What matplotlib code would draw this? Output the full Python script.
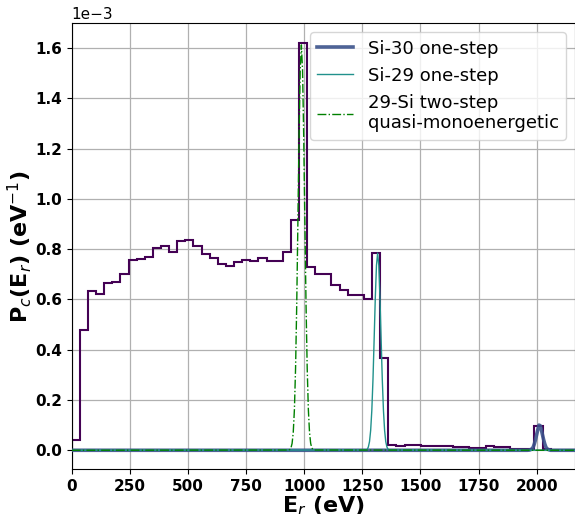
import numpy as np
import matplotlib
matplotlib.use("Agg")
import matplotlib.pyplot as plt

# ---------------- data (values in units of 1e-3 eV^-1) ----------------
E_max = 2165.0
n_bins = 62
hist_values = [
    0.040, 0.477, 0.633, 0.620, 0.665, 0.668, 0.701, 0.758, 0.762, 0.768,
    0.804, 0.812, 0.787, 0.834, 0.836, 0.813, 0.781, 0.764, 0.740, 0.731,
    0.747, 0.756, 0.752, 0.764, 0.751, 0.752, 0.789, 0.914, 1.619, 0.729,
    0.700, 0.700, 0.658, 0.638, 0.619, 0.619, 0.601, 0.784, 0.366, 0.021,
    0.015, 0.019, 0.021, 0.015, 0.016, 0.015, 0.015, 0.012, 0.012, 0.011,
    0.011, 0.016, 0.013, 0.012, 0.007, 0.007, 0.004, 0.098, 0.004, 0.000,
    0.000, 0.000,
]

# Si-30 one-step curve
si30_E = [0, 1960, 1970, 1975, 1980, 1985, 1990, 1995, 2000, 2005, 2010,
          2015, 2020, 2025, 2030, 2035, 2040, 2045, 2050, 2060, 2165]
si30_P = [0, 0.000, 0.001, 0.003, 0.006, 0.012, 0.025, 0.042, 0.062, 0.082, 0.100,
          0.098, 0.083, 0.062, 0.042, 0.025, 0.012, 0.006, 0.003, 0.000, 0]

# Si-29 one-step curve
si29_E = [0, 1266, 1271, 1276, 1281, 1286, 1291, 1296, 1301, 1306, 1311, 1316,
          1321, 1326, 1331, 1336, 1341, 1346, 1351, 1356, 1361, 1366, 2165]
si29_P = [0, 0.001, 0.003, 0.013, 0.034, 0.079, 0.159, 0.282, 0.442, 0.608, 0.735, 0.784,
          0.735, 0.608, 0.442, 0.282, 0.159, 0.079, 0.034, 0.013, 0.004, 0.001, 0]

# 29-Si two-step quasi-monoenergetic curve
qm_E = [0, 933, 938, 943, 948, 953, 958, 963, 968, 973, 978, 983, 988,
        993, 998, 1003, 1008, 1013, 1018, 1023, 1028, 1033, 1038, 1043, 2165]
qm_P = [0, 0.001, 0.003, 0.009, 0.027, 0.071, 0.162, 0.327, 0.581, 0.908, 1.249, 1.512, 1.612,
        1.512, 1.249, 0.908, 0.581, 0.327, 0.162, 0.071, 0.027, 0.009, 0.003, 0.001, 0]

legend_labels = ["Si-30 one-step", "Si-29 one-step",
                 "29-Si two-step\nquasi-monoenergetic"]

# ---------------- plot ----------------
scale = 1e-3
edges = np.linspace(0, E_max, n_bins + 1)

fig = plt.figure(figsize=(5.75, 5.14), dpi=100)
ax = fig.add_axes([0.1247, 0.087, 0.8753, 0.8677])

ax.stairs(np.array(hist_values) * scale, edges, color="#440154", lw=1.5, zorder=2)
ax.plot(si30_E, np.array(si30_P) * scale, color="#3b528b", lw=2.6, alpha=0.9,
        label=legend_labels[0], zorder=3)
ax.plot(si29_E, np.array(si29_P) * scale, color="#21918c", lw=1.0,
        label=legend_labels[1], zorder=4)
ax.plot(qm_E, np.array(qm_P) * scale, color="green", lw=1.0, ls="-.",
        label=legend_labels[2], zorder=5)

ax.set_xlim(0, E_max)
ax.set_ylim(-0.0756e-3, 1.698e-3)
ax.set_xticks([0, 250, 500, 750, 1000, 1250, 1500, 1750, 2000])
ax.set_yticks(np.arange(0, 1.61e-3, 0.2e-3))
ax.ticklabel_format(axis="y", style="sci", scilimits=(0, 0))
ax.grid(True, color="#b0b0b0", lw=0.9)
ax.set_axisbelow(True)

ax.tick_params(labelsize=11)
for lab in ax.get_xticklabels() + ax.get_yticklabels():
    lab.set_fontweight("bold")
ax.yaxis.get_offset_text().set_fontsize(11)

ax.set_xlabel(r"E$_r$ (eV)", fontsize=16, fontweight="bold", labelpad=0)
ax.set_ylabel(r"P$_c$(E$_r$) (eV$^{-1}$)", fontsize=16, fontweight="bold", labelpad=1)

ax.legend(loc="upper right", fontsize=13)

fig.savefig("out.png", dpi=100)
